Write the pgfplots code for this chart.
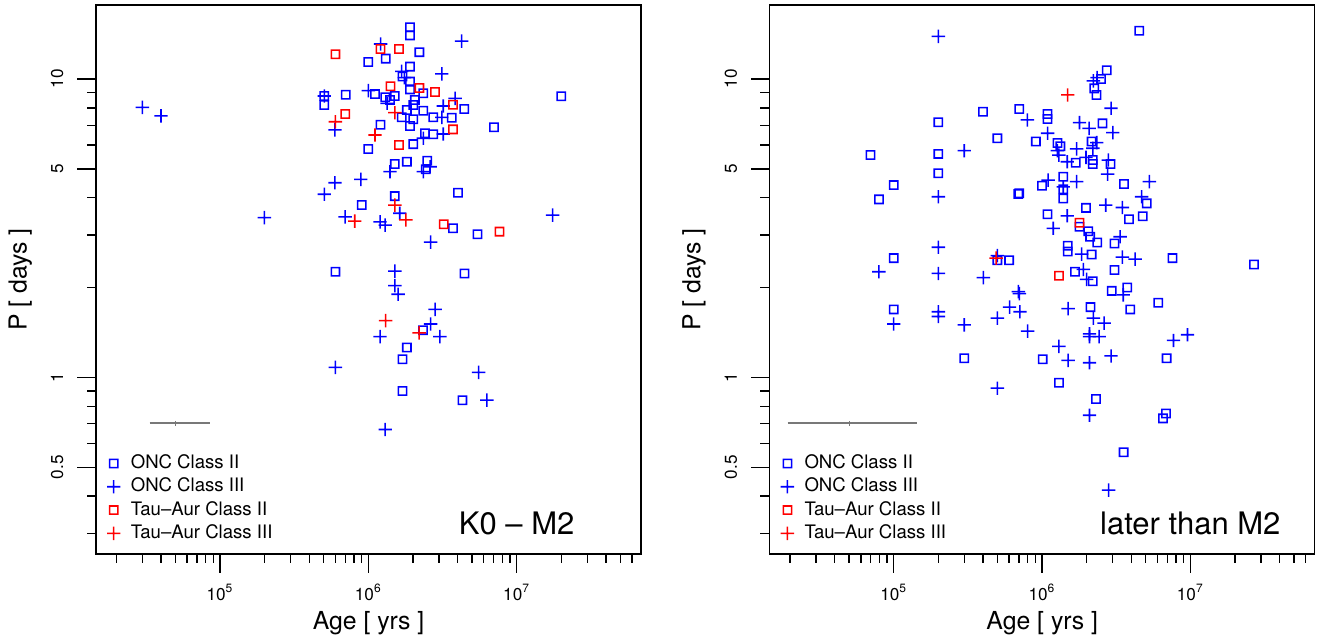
\documentclass[border=0pt]{standalone}
\usepackage{fontspec}
\setmainfont{TeX Gyre Heros}
\usepackage{pgfplots}
\usepackage{pgfplotstable}
\pgfplotsset{compat=1.18}

% ---------------- left panel: K0 - M2 ----------------
\pgfplotstableread{
x y
1.91e6 14.9
1.91e6 14.0
2.21e6 12.3
1.31e6 11.7
1.0e6 11.4
1.91e6 11.0
1.70e6 10.2
1.91e6 9.8
1.91e6 9.23
2.35e6 8.96
7.05e5 8.86
1.11e6 8.9
1.30e6 8.68
1.51e6 8.77
1.40e6 8.5
2.06e6 8.5
2.01e6 8.18
1.82e6 7.87
2.35e6 7.83
1.68e6 7.44
2.01e6 7.33
2.74e6 7.44
3.65e6 7.42
4.44e6 7.93
1.91e6 6.96
1.21e6 7.03
7.03e6 6.89
2.41e6 6.58
2.74e6 6.53
1.0e6 5.83
2.01e6 6.05
1.51e6 5.19
1.82e6 5.28
2.50e6 5.32
2.44e6 4.98
2.0e7 8.75
5.05e5 8.77
5.05e5 8.18
4.03e6 4.16
1.51e6 4.05
9.04e5 3.78
3.73e6 3.16
5.45e6 3.02
6.0e5 2.26
4.45e6 2.23
2.34e6 1.44
1.82e6 1.26
1.70e6 1.15
1.70e6 0.90
4.31e6 0.839
}\LoncII

\pgfplotstableread{
x y
3.0e4 8.03
4.0e4 7.52
1.21e6 13.1
4.26e6 13.4
3.13e6 10.4
1.68e6 10.6
1.75e6 10.1
1.0e6 9.14
1.34e6 8.29
3.2e6 8.12
3.85e6 8.61
3.13e6 7.44
3.2e6 6.54
2.35e6 6.33
5.96e5 6.75
5.05e5 8.77
1.40e6 4.89
2.35e6 4.89
2.61e6 5.08
5.96e5 4.49
8.9e5 4.61
5.05e5 4.11
1.99e5 3.43
6.98e5 3.45
1.20e6 3.32
1.30e6 3.24
1.63e6 3.55
1.75e7 3.50
2.63e6 2.84
1.51e6 2.27
1.51e6 2.03
1.59e6 1.90
2.82e6 1.69
2.63e6 1.51
1.20e6 1.37
3.04e6 1.37
6.0e5 1.08
5.55e6 1.04
6.3e6 0.839
1.30e6 0.669
}\LoncIII

\pgfplotstableread{
x y
6.0e5 12.1
1.21e6 12.6
1.61e6 12.6
1.41e6 9.45
2.21e6 9.33
2.82e6 9.04
3.73e6 8.2
7.0e5 7.63
3.73e6 6.78
1.61e6 6.01
3.23e6 3.26
7.66e6 3.08
}\LtauII

\pgfplotstableread{
x y
6.0e5 7.19
1.51e6 7.71
1.11e6 6.49
1.51e6 3.78
8.1e5 3.34
1.79e6 3.37
1.31e6 1.55
2.20e6 1.41
}\LtauIII

% ---------------- right panel: later than M2 ----------------
\pgfplotstableread{
x y
4.53e6 14.5
2.73e6 10.7
2.5e6 10.0
2.25e6 9.3
2.33e6 8.84
6.98e4 5.56
2.0e5 7.16
2.0e5 5.61
2.0e5 4.83
1.0e5 4.41
7.95e4 3.95
4.0e5 7.77
5.0e5 6.33
7.03e5 7.93
9.09e5 6.17
7.03e5 4.14
1.0e6 4.39
1.09e6 7.63
1.09e6 7.34
2.56e6 7.10
1.27e6 6.10
1.33e6 5.95
1.69e6 5.24
2.16e6 6.17
2.2e6 5.35
2.2e6 5.19
2.9e6 5.19
1.39e6 4.70
1.39e6 4.27
1.39e6 3.98
6.92e5 4.12
3.57e6 4.45
5.08e6 3.83
4.78e6 3.47
3.86e6 3.39
1.98e6 3.70
1.09e6 3.52
1.79e6 3.20
2.05e6 3.09
2.11e6 2.96
2.36e6 2.83
3.08e6 2.81
1.49e6 2.76
1.49e6 2.64
2.16e6 2.58
5.0e5 2.47
6.0e5 2.47
1.67e6 2.26
2.2e6 2.10
3.08e6 2.29
2.95e6 1.95
3.76e6 2.0
1.0e5 2.51
7.59e6 2.51
2.69e7 2.39
6.07e6 1.78
3.94e6 1.69
2.12e6 1.72
1.0e5 1.69
2.99e5 1.16
1.01e6 1.15
6.92e6 1.16
1.30e6 0.96
2.31e6 0.846
6.55e6 0.729
6.86e6 0.757
3.55e6 0.561
}\RoncII

\pgfplotstableread{
x y
2.0e5 13.9
2.99e5 5.75
2.0e5 4.03
2.22e6 9.85
2.35e6 10.1
2.92e6 7.98
7.96e5 7.29
1.79e6 7.14
2.08e6 6.83
3.0e6 6.61
1.09e6 6.58
2.34e6 6.12
1.71e6 5.83
1.27e6 5.75
1.30e6 5.56
1.48e6 5.28
1.98e6 5.46
2.2e6 5.86
2.8e6 5.35
2.77e6 4.80
1.39e6 4.35
1.1e6 4.58
1.71e6 4.53
5.3e6 4.53
4.7e6 4.03
2.69e6 3.78
3.48e6 3.71
1.48e6 3.48
1.19e6 3.16
3.36e6 2.96
3.48e6 2.53
4.24e6 2.49
1.85e6 2.59
5.0e5 2.56
1.90e6 2.30
2.0e6 2.13
3.53e6 1.89
6.92e5 1.94
4.02e5 2.16
2.0e5 2.73
7.95e4 2.26
2.0e5 2.23
7.03e5 1.91
1.50e6 1.70
6.04e5 1.72
7.1e5 1.66
1.0e5 1.51
2.0e5 1.66
2.0e5 1.60
2.99e5 1.50
5.0e5 1.58
8.0e5 1.43
2.22e6 1.58
2.62e6 1.52
2.09e6 1.40
2.09e6 1.37
2.43e6 1.37
1.30e6 1.27
7.7e6 1.33
9.57e6 1.39
1.5e6 1.14
2.09e6 1.12
2.92e6 1.18
5.0e5 0.92
2.09e6 0.747
2.81e6 0.419
}\RoncIII

\pgfplotstableread{
x y
1.79e6 3.30
1.30e6 2.19
}\RtauII

\pgfplotstableread{
x y
1.49e6 8.84
4.9e5 2.51
}\RtauIII

\definecolor{rblue}{RGB}{0,0,255}
\definecolor{rred}{RGB}{255,0,0}
\definecolor{rgray}{RGB}{120,120,120}

% filled (not stroked) open square and plus marks
\pgfdeclareplotmark{rsq}{%
  \pgfpathrectangle{\pgfpoint{-2.45pt}{-2.45pt}}{\pgfpoint{4.9pt}{4.9pt}}%
  \pgfpathrectangle{\pgfpoint{-1.67pt}{-1.67pt}}{\pgfpoint{3.34pt}{3.34pt}}%
  \pgfseteorule\pgfusepathqfill}
\pgfdeclareplotmark{rplus}{%
  \pgfpathrectangle{\pgfpoint{-3.35pt}{-0.39pt}}{\pgfpoint{6.7pt}{0.78pt}}%
  \pgfpathrectangle{\pgfpoint{-0.39pt}{-3.35pt}}{\pgfpoint{0.78pt}{6.7pt}}%
  \pgfsetnonzerorule\pgfusepathqfill}

\pgfplotsset{
  oncII/.style={only marks, mark=rsq, color=rblue, mark options={fill=rblue, draw=none}},
  oncIII/.style={only marks, mark=rplus, color=rblue, mark options={fill=rblue, draw=none}},
  tauII/.style={only marks, mark=rsq, color=rred, mark options={fill=rred, draw=none}},
  tauIII/.style={only marks, mark=rplus, color=rred, mark options={fill=rred, draw=none}},
  rpanel/.style={
    scale only axis, width=272.5pt, height=274.5pt,
    xmin=14590, xmax=6.90e7,
    ymin=0.256, ymax=17.7,
    axis line style={line width=0.7pt},
    tick style={draw=black, line width=0.7pt},
    tick align=inside,
    major tick length=-9.5pt, minor tick length=-4.75pt,
    xtick pos=left, ytick pos=left,
    xtick={1e5,1e6,1e7},
    xticklabels={10\textsuperscript{5},10\textsuperscript{6},10\textsuperscript{7}},
    minor xtick={2e4,3e4,4e4,5e4,6e4,7e4,8e4,9e4,2e5,3e5,4e5,5e5,6e5,7e5,8e5,9e5,2e6,3e6,4e6,5e6,6e6,7e6,8e6,9e6,2e7,3e7,4e7,5e7,6e7},
    ytick={0.5,1,5,10},
    yticklabels={0.5,1,5,10},
    minor ytick={0.3,0.4,0.6,0.7,0.8,0.9,2,3,4,6,7,8,9},
    tick label style={font=\fontsize{8.6}{10}\selectfont},
    xticklabel style={anchor=base, yshift=-23pt},
    yticklabel style={xshift=-16.4pt, rotate=90, anchor=base},
    xlabel={Age [ yrs ]}, ylabel={P [ days ]},
    label style={font=\fontsize{12.4}{14}\selectfont},
    xlabel style={at={(axis description cs:0.5,-0.1381)}, anchor=base},
    ylabel style={at={(axis description cs:-0.1273,0.5)}, anchor=base},
    legend style={at={(0,0.1814)}, anchor=north west, draw=none, fill=none,
      inner sep=0pt, outer sep=0pt, row sep=2.67pt,
      font=\fontsize{9.3}{11}\selectfont,
      nodes={inner sep=0pt, text height=7pt, text depth=2pt}},
    legend cell align=left,
    legend image code/.code={\path[draw=none,fill=none] (0pt,0pt) -- (17.4pt,0pt); \draw[##1] plot coordinates {(8.85pt,0pt)};},
  },
}

\begin{document}
\begin{tikzpicture}
\useasboundingbox (0,0) rectangle (662.5pt,321pt);

\begin{axis}[xmode=log, ymode=log, rpanel, at={(48pt,44pt)}, anchor=south west]
  \addplot[forget plot, draw=rgray, line width=1pt] coordinates {(3.36e4,0.701) (8.55e4,0.701)};
  \addplot[forget plot, only marks, mark=|, mark options={draw=rgray}, mark size=1.1pt, line width=0.5pt] coordinates {(5e4,0.701)};
  \addplot[oncII] table[x=x,y=y] {\LoncII};
  \addplot[oncIII] table[x=x,y=y] {\LoncIII};
  \addplot[tauII] table[x=x,y=y] {\LtauII};
  \addplot[tauIII] table[x=x,y=y] {\LtauIII};
  \legend{ONC Class II, ONC Class III, Tau--Aur Class II, Tau--Aur Class III}
  \node[anchor=base, font=\fontsize{15.5}{18}\selectfont] at (axis cs:1e7,0.298) {K0 -- M2};
\end{axis}

\begin{axis}[xmode=log, ymode=log, rpanel, at={(384.85pt,44pt)}, anchor=south west]
  \addplot[forget plot, draw=rgray, line width=1pt] coordinates {(1.93e4,0.701) (1.44e5,0.701)};
  \addplot[forget plot, only marks, mark=|, mark options={draw=rgray}, mark size=1.1pt, line width=0.5pt] coordinates {(5e4,0.701)};
  \addplot[oncII] table[x=x,y=y] {\RoncII};
  \addplot[oncIII] table[x=x,y=y] {\RoncIII};
  \addplot[tauII] table[x=x,y=y] {\RtauII};
  \addplot[tauIII] table[x=x,y=y] {\RtauIII};
  \legend{ONC Class II, ONC Class III, Tau--Aur Class II, Tau--Aur Class III}
  \node[anchor=base, font=\fontsize{15.5}{18}\selectfont] at (axis cs:1e7,0.298) {later than M2};
\end{axis}
\end{tikzpicture}
\end{document}
